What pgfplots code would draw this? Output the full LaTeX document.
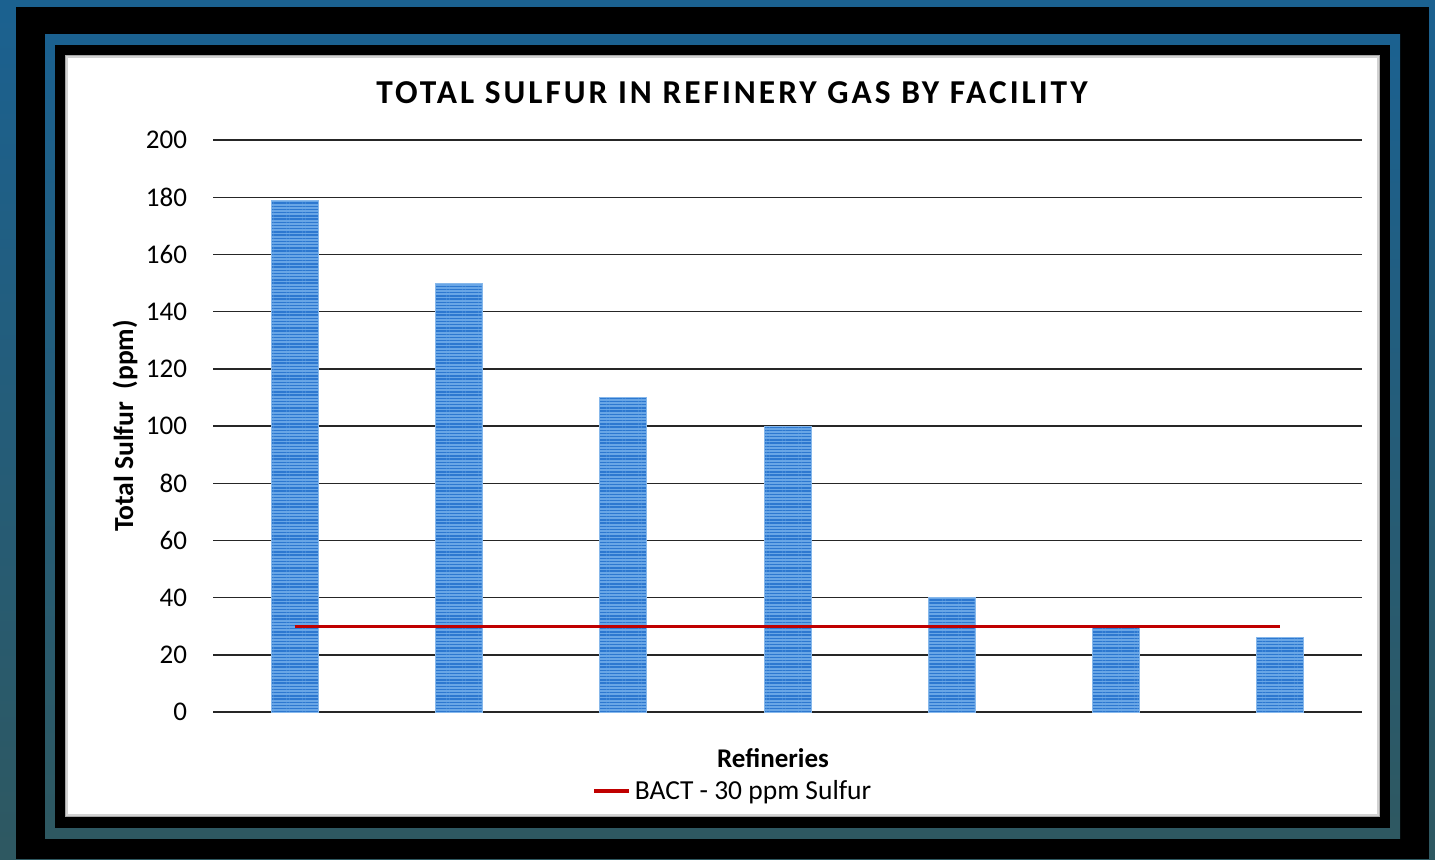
\documentclass[border=0pt]{standalone}
\usepackage{pgfplots}
\pgfplotsset{compat=1.18}
\usepackage{fontspec}
\setmainfont{Carlito}
\usetikzlibrary{patterns.meta}
\definecolor{frameTop}{RGB}{27,97,144}
\definecolor{frameBot}{RGB}{46,88,97}
\definecolor{barFill}{RGB}{105,166,230}
\definecolor{barLine}{RGB}{45,120,208}
\definecolor{bactRed}{RGB}{192,0,0}
\begin{document}
\begin{tikzpicture}
% decorative frame (pixel coordinates, y downward, 1px = 0.5pt)
\begin{scope}[x=0.5pt,y=-0.5pt,yshift=429.5pt]
\useasboundingbox (0,0) rectangle (1435,859);
\shade[top color=frameTop,bottom color=frameBot] (0,0) rectangle (1435,859);
\fill[black] (16,7) rectangle (1429,859);
\shade[top color=frameTop,bottom color=frameBot] (45,35) rectangle (1400,838);
\fill[black] (55,45) rectangle (1390,828);
\fill[gray!70] (65,55) rectangle (1380,817);
\fill[gray!35] (66,56) rectangle (1379,816);
\fill[white] (68,58) rectangle (1377,814);
\end{scope}
\begin{axis}[
  at={(106.5pt,73.5pt)}, anchor=south west,
  scale only axis,
  width=574.5pt, height=286pt,
  xmin=-0.5, xmax=6.5,
  ymin=0, ymax=200,
  ytick={0,20,...,200},
  xtick=\empty,
  ymajorgrids,
  grid style={black!85, line width=0.7pt},
  axis line style={draw=none},
  major tick length=0pt,
  /pgf/number format/assume math mode=true,
  tick label style={font=\fontsize{13.5}{15}\selectfont},
  yticklabel style={xshift=-9.5pt},
  title={\addfontfeature{LetterSpace=9}TOTAL SULFUR IN REFINERY GAS BY FACILITY},
  title style={font=\fontsize{16.7}{19}\selectfont\bfseries, at={(axis description cs:0.5,1)}, anchor=center, yshift=17.5pt, xshift=-27.75pt},
  xlabel={Refineries},
  xlabel style={font=\fontsize{13.5}{15}\selectfont\bfseries, at={(axis description cs:0.5,0)}, anchor=center, yshift=-23pt, xshift=-7.25pt},
  ylabel={Total Sulfur\ \ (ppm)},
  ylabel style={font=\fontsize{13.8}{15}\selectfont\bfseries, at={(axis description cs:-0.0766,0.5)}, anchor=center},
  legend style={draw=none, fill=none, at={(axis description cs:0.5,0)}, anchor=center, yshift=-39.5pt, xshift=-26.75pt, font=\fontsize{13.75}{15}\selectfont, inner sep=0pt},
  legend cell align=left,
]
\addplot[ybar, bar width=23.5pt, draw=barFill!80, line width=0.4pt, fill=barFill, postaction={pattern={Lines[angle=0,distance=1.6pt,line width=0.7pt]}, pattern color=barLine}, forget plot]
  coordinates {(0,179) (1,150) (2,110) (3,100) (4,40) (5,30) (6,26)};
\addplot[sharp plot, bactRed, line width=1.6pt, mark=none,
  legend image code/.code={\draw[bactRed, line width=1.6pt] (0pt,0pt) -- (17.5pt,0pt);}]
  coordinates {(0,30) (6,30)};
\addlegendentry{BACT - 30 ppm Sulfur}
\end{axis}
\end{tikzpicture}
\end{document}
